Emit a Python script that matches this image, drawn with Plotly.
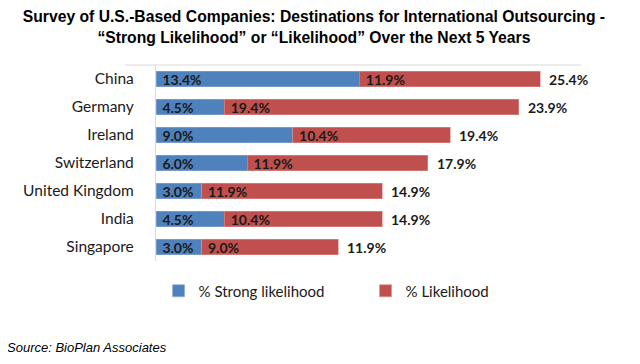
import plotly.graph_objects as go

countries = ["China", "Germany", "Ireland", "Switzerland", "United Kingdom", "India", "Singapore"]
strong = [13.4, 4.5, 9.0, 6.0, 3.0, 4.5, 3.0]
likely = [11.9, 19.4, 10.4, 11.9, 11.9, 10.4, 9.0]
totals = [25.4, 23.9, 19.4, 17.9, 14.9, 14.9, 11.9]

BLUE = "#4F81BD"
RED = "#C0504D"
LABEL_FONT = dict(family="Lato, Open Sans, sans-serif", size=14, color="#1a1a1a")

fig = go.Figure()
fig.add_trace(go.Bar(
    y=countries, x=strong, orientation="h", name="% Strong likelihood",
    marker=dict(color=BLUE, line=dict(color="#8eabd3", width=0.6)),
    text=[f"<b>&nbsp;{v:.1f}%</b>" for v in strong], textposition="inside",
    insidetextanchor="start", textfont=LABEL_FONT, cliponaxis=False,
))
fig.add_trace(go.Bar(
    y=countries, x=likely, orientation="h", name="% Likelihood",
    marker=dict(color=RED, line=dict(color="#dc8f8d", width=0.6)),
    text=[f"<b>&nbsp;{v:.1f}%</b>" for v in likely], textposition="inside",
    insidetextanchor="start", textfont=LABEL_FONT, cliponaxis=False,
))

for c, s, l, t in zip(countries, strong, likely, totals):
    fig.add_annotation(x=s + l, y=c, text=f"<b>{t:.1f}%</b>", xanchor="left",
                       xshift=7, showarrow=False, font=LABEL_FONT)

fig.add_shape(type="line", xref="paper", yref="paper", x0=-0.073, x1=1.0, y0=1, y1=1,
              line=dict(color="#d9d9d9", width=1.2))

fig.add_annotation(
    xref="paper", yref="paper", x=-0.356, y=-0.44, xanchor="left", yanchor="middle",
    text="<i>Source: BioPlan Associates</i>", showarrow=False,
    font=dict(family="Liberation Sans, Arial, sans-serif", size=13, color="#000000"),
)

# page body has an 8px default margin; margins compensate so the plot lands in place
fig.update_layout(
    width=640, height=364,
    margin=dict(l=148, r=67, t=57, b=111),
    paper_bgcolor="white", plot_bgcolor="white",
    barmode="stack", bargap=0.45,
    uniformtext=dict(minsize=14, mode="show"),
    title=dict(
        text="<b>Survey of U.S.-Based Companies: Destinations for International Outsourcing -<br>“Strong Likelihood” or “Likelihood” Over the Next 5 Years</b>",
        x=0.478, xanchor="center", y=0.961, yanchor="top",
        font=dict(family="Liberation Sans, Arial, sans-serif", size=15.7, color="#000000"),
    ),
    xaxis=dict(range=[0, 28], showgrid=False, showticklabels=False, zeroline=False,
               showline=False, fixedrange=True),
    yaxis=dict(autorange="reversed", showgrid=False, showline=True, linecolor="#d9d9d9",
               linewidth=1.2, ticks="", ticklabelstandoff=18, automargin=False,
               tickfont=dict(family="Lato, Open Sans, sans-serif", size=15.5, color="#1a1a1a")),
    legend=dict(orientation="h", x=0.006, xanchor="left", y=-0.153, yanchor="middle",
                font=dict(family="Lato, Open Sans, sans-serif", size=15, color="#1a1a1a"),
                itemwidth=30, entrywidth=162, entrywidthmode="pixels", traceorder="normal"),
    showlegend=True,
)

fig.write_html("out.html")
